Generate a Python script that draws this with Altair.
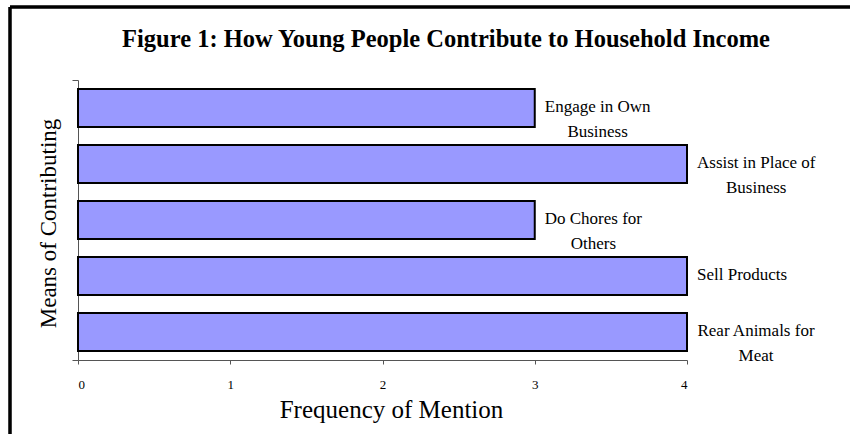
import altair as alt
import pandas as pd

# Survey responses: ways young people add to household income
means = [
    "Engage in Own\nBusiness",
    "Assist in Place of\nBusiness",
    "Do Chores for\nOthers",
    "Sell Products",
    "Rear Animals for\nMeat",
]
mentions = [3, 4, 3, 4, 4]
x_ticks = [0, 1, 2, 3, 4]
title_text = "Figure 1: How Young People Contribute to Household Income"

SERIF = "Liberation Serif"
PLOT_W, PLOT_H = 609, 280
X_MAX = 4
LABEL_SIZE = 17
LABEL_GAP = 10

# Approximate Times-style advance widths (per 1000 em) for sizing the labels
_ADV = {
    " ": 250, "A": 722, "B": 667, "C": 667, "D": 722, "E": 611, "M": 889,
    "O": 722, "P": 556, "R": 667, "S": 556, "a": 444, "b": 500, "c": 444,
    "d": 500, "e": 444, "f": 333, "g": 500, "h": 500, "i": 278, "l": 278,
    "m": 778, "n": 500, "o": 500, "r": 333, "s": 389, "t": 278, "u": 500,
    "w": 722,
}


def text_width(s, size):
    longest = max(sum(_ADV.get(ch, 500) for ch in line) for line in s.split("\n"))
    return longest * size / 1000.0


px_per_unit = PLOT_W / X_MAX
df = pd.DataFrame({"means": means, "mentions": mentions})
df["order"] = range(len(df))
# label block sits just right of the bar end, lines centred on each other
df["label_x"] = [
    v + (LABEL_GAP + text_width(t, LABEL_SIZE) / 2) / px_per_unit
    for v, t in zip(df["mentions"], df["means"])
]

y_scale = alt.Scale(domain=[0, len(means)], reverse=True, nice=False, zero=False)
x_scale = alt.Scale(domain=[0, X_MAX], nice=False)

base = alt.Chart(df)

bars = base.mark_bar(
    fill="#9999FF", stroke="#000000", strokeWidth=2
).transform_calculate(
    y0="datum.order + 0.16", y1="datum.order + 0.84", zero="0"
).encode(
    x=alt.X(
        "zero:Q",
        scale=x_scale,
        axis=alt.Axis(
            values=x_ticks,
            title="Frequency of Mention",
            titleFont=SERIF,
            titleFontSize=25,
            titleFontWeight="normal",
            titleColor="#000000",
            titleBaseline="alphabetic",
            titleX=313,
            titleY=57,
            labelFont=SERIF,
            labelFontSize=13,
            labelColor="#000000",
            labelPadding=14,
            labelBaseline="top",
            tickSize=4,
            tickColor="#555555",
            domainColor="#555555",
            grid=False,
            format="d",
        ),
    ),
    x2="mentions:Q",
    y=alt.Y(
        "y0:Q",
        scale=y_scale,
        axis=alt.Axis(
            values=[0, len(means)],
            labels=False,
            title="Means of Contributing",
            titleFont=SERIF,
            titleFontSize=23,
            titleFontWeight="normal",
            titleColor="#000000",
            titleAngle=270,
            titleBaseline="alphabetic",
            titleX=-23,
            titleY=143,
            tickSize=6,
            tickColor="#555555",
            domainColor="#555555",
            grid=False,
        ),
    ),
    y2="y1:Q",
)

labels = base.mark_text(
    font=SERIF,
    fontSize=LABEL_SIZE,
    align="center",
    baseline="middle",
    lineBreak="\n",
    lineHeight=25,
    color="#000000",
    dy=-1,
).transform_calculate(
    ymid="datum.order + 0.5"
).encode(
    x=alt.X("label_x:Q", scale=x_scale),
    y=alt.Y("ymid:Q", scale=y_scale),
    text="means:N",
)

# chart heading, centred over the outer frame
heading = alt.Chart(pd.DataFrame({"t": [title_text]})).mark_text(
    font=SERIF,
    fontSize=24.5,
    fontWeight="bold",
    color="#000000",
    align="center",
    baseline="alphabetic",
).encode(x=alt.value(368), y=alt.value(-33), text="t:N")

# outer frame lines (top and left edges)
frame_top = alt.Chart(df).mark_rule(color="#000000", strokeWidth=2.5).encode(
    x=alt.value(-68), x2=alt.value(900), y=alt.value(-73)
)
frame_left = alt.Chart(df).mark_rule(color="#000000", strokeWidth=2.5).encode(
    x=alt.value(-68), y=alt.value(-73), y2=alt.value(400)
)

chart = alt.layer(bars, labels, heading, frame_top, frame_left).properties(
    width=PLOT_W,
    height=PLOT_H,
    autosize=alt.AutoSizeParams(type="none"),
    padding={"left": 78, "top": 80, "right": 163, "bottom": 74},
).configure(background="#FFFFFF").configure_view(strokeWidth=0, stroke="transparent")

chart.save("out.html", embed_options={"renderer": "svg", "actions": False})
